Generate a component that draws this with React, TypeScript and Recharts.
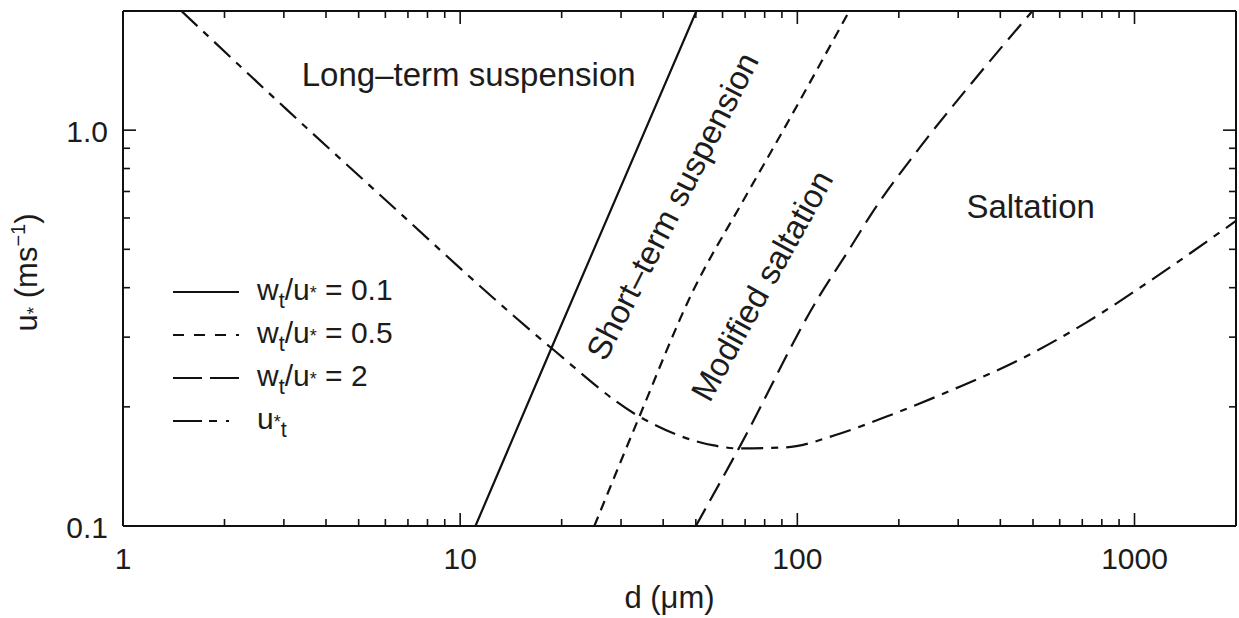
import React from 'react';
import { LineChart, Line, XAxis, YAxis, Legend, ReferenceDot } from 'recharts';

// ---- data ----
const solidD = [11.1, 18.6, 50.2];
const solidU = [0.1, 0.28, 2.0];

const shortD = [25.0, 34.0, 48.8, 68.7, 90.2, 142.6];
const shortU = [0.1, 0.189, 0.389, 0.658, 0.989, 2.0];

const longD = [50.0, 67.3, 116, 142.6, 167, 225, 330, 498];
const longU = [0.1, 0.158, 0.38, 0.5, 0.62, 0.879, 1.32, 2.0];

const threshD = [1.49, 3.05, 6.59, 12.4, 18.6, 34.0, 56, 67.3, 92.7, 130.5, 184, 289, 456, 721, 1130, 2000];
const threshU = [2.0, 1.13, 0.62, 0.38, 0.282, 0.189, 0.16, 0.157, 0.158, 0.17, 0.189, 0.221, 0.263, 0.327, 0.42, 0.59];

const xTicks = [1, 2, 3, 4, 5, 6, 7, 8, 9, 10, 20, 30, 40, 50, 60, 70, 80, 90, 100, 200, 300, 400, 500, 600, 700, 800, 900, 1000, 2000];
const xMajorTicks = [1, 10, 100, 1000];
const yTicks = [0.1, 0.2, 0.3, 0.4, 0.5, 0.6, 0.7, 0.8, 0.9, 1, 2];
const yMajorTicks = [0.1, 1];
const yTickLabels = ['0.1', '1.0'];

const regionNames = ['Long–term suspension', 'Short–term suspension', 'Modified saltation', 'Saltation'];
const regionD = [10.6, 42.6, 78.5, 492];
const regionU = [1.38, 0.643, 0.405, 0.643];
const regionAngle = [0, -63, -61, 0];

const legendValues = ['0.1', '0.5', '2'];

const toPts = (ds: number[], us: number[]) => ds.map((d, i) => ({ d, u: us[i] }));

const FONT = '"Liberation Sans", Arial, Helvetica, sans-serif';
const INK = '#1c1c1c';

const series = [
  { key: 'solid', data: toPts(solidD, solidU), dash: undefined as string | undefined, legendDash: undefined as string | undefined },
  { key: 'short', data: toPts(shortD, shortU), dash: '10 7', legendDash: '11 10' },
  { key: 'long', data: toPts(longD, longU), dash: '20 9', legendDash: '29 8' },
  { key: 'thresh', data: toPts(threshD, threshU), dash: '22 8 7 8', legendDash: '29 7 8 9 3 20' },
];

const XTick = (props: any) => {
  const { x, y, payload, top } = props;
  const v = payload.value;
  const major = xMajorTicks.includes(v);
  const len = major ? 13 : 7;
  return (
    <g>
      <line x1={x} x2={x} y1={y} y2={top ? y + len : y - len} stroke="#111" strokeWidth={1.6} />
      {!top && major && (
        <text x={x} y={y + 43} textAnchor="middle" fontSize={30} fontFamily={FONT} fill={INK}>
          {v}
        </text>
      )}
    </g>
  );
};

const YTick = (props: any) => {
  const { x, y, payload, right } = props;
  const v = payload.value;
  const idx = yMajorTicks.findIndex((m) => Math.abs(m - v) < 1e-9);
  const major = idx >= 0;
  const len = major ? 13 : 7;
  return (
    <g>
      <line x1={x} x2={right ? x - len : x + len} y1={y} y2={y} stroke="#111" strokeWidth={1.6} />
      {!right && major && (
        <text x={x - 15} y={y + 12} textAnchor="end" fontSize={30} fontFamily={FONT} fill={INK}>
          {yTickLabels[idx]}
        </text>
      )}
    </g>
  );
};

const XTitle = (props: any) => {
  const vb = props.viewBox || { x: 123, y: 526, width: 1113, height: 92 };
  const cx = vb.x + vb.width / 2 - 10;
  return (
    <text x={cx} y={vb.y + 82} textAnchor="middle" fontSize={31} fontFamily={FONT} fill={INK}>
      d (μm)
    </text>
  );
};

const YTitle = (props: any) => {
  const vb = props.viewBox || { x: 0, y: 11, width: 123, height: 515 };
  const cx = vb.x + 37;
  const cy = vb.y + vb.height / 2 + 4;
  return (
    <text
      x={cx}
      y={cy}
      textAnchor="middle"
      fontSize={31}
      fontFamily={FONT}
      fill={INK}
      transform={`rotate(-90 ${cx} ${cy})`}
    >
      u<tspan fontSize={19} dy={3}>*</tspan>
      <tspan fontSize={31} dy={-3}> (ms</tspan>
      <tspan fontSize={20} dy={-12}>−1</tspan>
      <tspan fontSize={31} dy={12}>)</tspan>
    </text>
  );
};

const RegionText = (props: any) => {
  const vb = props.viewBox || { x: 0, y: 0, width: 0, height: 0 };
  const cx = vb.x + (vb.width || 0) / 2;
  const cy = vb.y + (vb.height || 0) / 2;
  const rot = props.rot || 0;
  return (
    <text
      x={cx}
      y={cy}
      textAnchor="middle"
      dominantBaseline="central"
      fontSize={33}
      fontFamily={FONT}
      fill={INK}
      transform={rot ? `rotate(${rot} ${cx} ${cy})` : undefined}
    >
      {props.text}
    </text>
  );
};

const Star = () => (
  <span style={{ fontSize: '0.6em', position: 'relative', top: '-0.02em' }}>*</span>
);
const Sub = ({ children }: { children: React.ReactNode }) => (
  <span style={{ fontSize: '0.72em', position: 'relative', top: '0.4em' }}>{children}</span>
);

const legendLabel = (i: number) => {
  if (i < 3) {
    return (
      <>
        w<Sub>t</Sub>/u<Star /> = {legendValues[i]}
      </>
    );
  }
  return (
    <>
      u<Star />
      <Sub>t</Sub>
    </>
  );
};

const renderLegend = () => (
  <div style={{ fontFamily: FONT, fontSize: 30, color: INK }}>
    {series.map((s, i) => (
      <div key={s.key} style={{ display: 'flex', alignItems: 'center', height: 43, whiteSpace: 'nowrap' }}>
        <svg width={68} height={10} style={{ display: 'block' }}>
          <line x1={1} y1={5} x2={67} y2={5} stroke="#111" strokeWidth={2} strokeDasharray={s.legendDash} />
        </svg>
        <span style={{ marginLeft: 17, lineHeight: '43px' }}>{legendLabel(i)}</span>
      </div>
    ))}
  </div>
);

export default function App() {
  return (
    <div style={{ position: 'absolute', left: 0, top: 0, width: 1239, height: 618, background: '#fff' }}>
      <LineChart width={1239} height={618} margin={{ top: 10, right: 2, bottom: 0, left: 0 }}>
        <XAxis
          xAxisId="bottom"
          type="number"
          dataKey="d"
          scale="log"
          domain={[1, 2000]}
          allowDataOverflow
          ticks={xTicks}
          interval={0}
          tickSize={0}
          tickMargin={0}
          tickLine={false}
          height={92}
          axisLine={{ stroke: '#111', strokeWidth: 2 }}
          tick={<XTick />}
          label={<XTitle />}
        />
        <XAxis
          xAxisId="top"
          orientation="top"
          type="number"
          dataKey="d"
          scale="log"
          domain={[1, 2000]}
          allowDataOverflow
          ticks={xTicks}
          interval={0}
          tickSize={0}
          tickMargin={0}
          tickLine={false}
          height={1}
          axisLine={{ stroke: '#111', strokeWidth: 2 }}
          tick={<XTick top />}
        />
        <YAxis
          yAxisId="left"
          type="number"
          dataKey="u"
          scale="log"
          domain={[0.1, 2]}
          allowDataOverflow
          ticks={yTicks}
          interval={0}
          tickSize={0}
          tickMargin={0}
          tickLine={false}
          width={123}
          axisLine={{ stroke: '#111', strokeWidth: 2 }}
          tick={<YTick />}
          label={<YTitle />}
        />
        <YAxis
          yAxisId="right"
          orientation="right"
          type="number"
          dataKey="u"
          scale="log"
          domain={[0.1, 2]}
          allowDataOverflow
          ticks={yTicks}
          interval={0}
          tickSize={0}
          tickMargin={0}
          tickLine={false}
          width={1}
          axisLine={{ stroke: '#111', strokeWidth: 2 }}
          tick={<YTick right />}
        />
        {series.map((s) => (
          <Line
            key={s.key}
            xAxisId="bottom"
            yAxisId="left"
            data={s.data}
            dataKey="u"
            type={s.key === 'solid' ? 'linear' : 'monotone'}
            stroke="#111"
            strokeWidth={2.2}
            strokeDasharray={s.dash}
            dot={false}
            activeDot={false}
            isAnimationActive={false}
            legendType="line"
          />
        ))}
        {/* invisible series so the mirrored axes are bound to data */}
        <Line
          xAxisId="top"
          yAxisId="right"
          data={series[3].data}
          dataKey="u"
          stroke="none"
          dot={false}
          activeDot={false}
          isAnimationActive={false}
          legendType="none"
        />
        {regionNames.map((name, i) => (
          <ReferenceDot
            key={name}
            xAxisId="bottom"
            yAxisId="left"
            x={regionD[i]}
            y={regionU[i]}
            r={0}
            fill="none"
            stroke="none"
            label={<RegionText text={name} rot={regionAngle[i]} />}
          />
        ))}
        <Legend
          layout="vertical"
          align="center"
          verticalAlign="middle"
          content={renderLegend}
          wrapperStyle={{ left: 172, top: 270, width: 'auto' }}
        />
      </LineChart>
    </div>
  );
}
